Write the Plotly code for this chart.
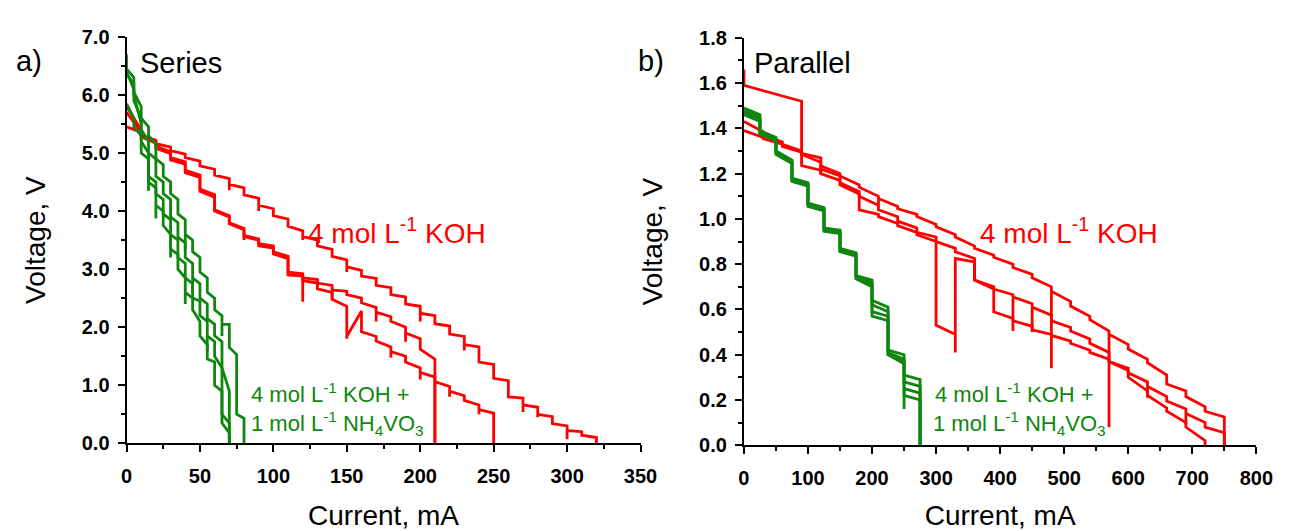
import plotly.graph_objects as go

# ---------------- Panel a) Series ----------------
# 4 mol/L KOH (red) – step currents (mA), voltage before step, after step, spike minimum
a_kohA_I = [0, 10, 20, 30, 40, 50, 60, 70, 80, 90, 100, 110, 120, 130, 140, 150, 160, 170, 180, 190, 200,
            210, 220, 230, 240, 250, 260, 270, 280, 290, 300, 310, 320]
a_kohA_hi = [5.45, 5.36, 5.22, 5.10, 4.98, 4.86, 4.72, 4.56, 4.40, 4.22, 4.04, 3.86, 3.66, 3.50, 3.34, 3.16, 2.98,
             2.84, 2.68, 2.52, 2.36, 2.20, 2.02, 1.84, 1.66, 1.36, 1.08, 0.78, 0.62, 0.46, 0.30, 0.20, 0.10]
a_kohA_lo = [5.45, 5.30, 5.16, 5.04, 4.92, 4.78, 4.62, 4.46, 4.28, 4.10, 3.92, 3.74, 3.56, 3.40, 3.22, 3.04, 2.88,
             2.72, 2.56, 2.40, 2.24, 2.06, 1.88, 1.70, 1.40, 1.12, 0.80, 0.66, 0.50, 0.34, 0.22, 0.14, 0.00]
a_kohA_min = [5.45, 5.30, 5.16, 5.04, 4.92, 4.78, 4.62, 4.36, 4.28, 4.00, 3.92, 3.74, 3.50, 3.40, 3.22, 2.95, 2.88,
              2.72, 2.56, 2.40, 2.10, 2.06, 1.88, 1.60, 1.40, 1.12, 0.80, 0.54, 0.45, 0.34, 0.07, 0.14, 0.00]

a_kohB_I = [0, 10, 20, 30, 40, 50, 60, 70, 80, 90, 100, 110, 120, 130, 140, 150, 160, 170, 180, 190, 200,
            210, 220, 230, 240, 250]
a_kohB_hi = [5.70, 5.36, 5.17, 4.99, 4.81, 4.58, 4.24, 3.90, 3.68, 3.50, 3.36, 3.18, 2.88, 2.76, 2.60, 2.36, 2.28,
             1.84, 1.66, 1.50, 1.30, 1.14, 0.98, 0.82, 0.66, 0.52]
a_kohB_lo = [5.70, 5.28, 5.08, 4.88, 4.66, 4.34, 4.00, 3.78, 3.56, 3.40, 3.26, 2.90, 2.80, 2.66, 2.48, 1.84, 1.92,
             1.76, 1.58, 1.40, 1.22, 1.06, 0.90, 0.74, 0.58, 0.00]
a_kohB_min = [5.70, 5.28, 5.08, 4.88, 4.66, 4.34, 4.00, 3.78, 3.56, 3.40, 3.26, 2.90, 2.80, 2.66, 2.48, 1.80, 1.92,
              1.76, 1.48, 1.40, 1.10, 0.02, 0.80, 0.74, 0.50, 0.00]

a_kohC_I = [0, 10, 20, 30, 40, 50, 60, 70, 80, 90, 100, 110, 120, 130, 140, 150, 160, 170, 180, 190, 200, 210]
a_kohC_hi = [5.80, 5.40, 5.20, 5.02, 4.85, 4.62, 4.28, 3.92, 3.70, 3.52, 3.40, 3.22, 2.92, 2.82, 2.72, 2.62, 2.50,
             2.34, 2.18, 2.00, 1.80, 1.45]
a_kohC_lo = [5.80, 5.32, 5.12, 4.92, 4.70, 4.38, 4.02, 3.80, 3.58, 3.44, 3.30, 2.95, 2.85, 2.76, 2.64, 2.56, 2.42,
             2.26, 2.10, 1.90, 1.62, 0.00]
a_kohC_min = [5.80, 5.32, 5.12, 4.92, 4.70, 4.38, 4.02, 3.80, 3.50, 3.44, 3.30, 2.95, 2.44, 2.76, 2.48, 2.56, 2.42,
              2.10, 2.10, 1.75, 1.62, 0.00]

# 4 mol/L KOH + 1 mol/L NH4VO3 (green)
a_vo_I1 = [0, 5, 10, 15, 20, 25, 30, 35, 40, 45, 50, 55, 60, 65, 70, 75, 80]
a_vo1_hi = [6.35, 6.20, 5.80, 5.45, 5.15, 4.80, 4.50, 4.20, 3.85, 3.50, 3.20, 2.85, 2.50, 2.20, 2.05, 1.53, 0.43]
a_vo1_lo = [6.35, 6.05, 5.60, 5.30, 4.90, 4.60, 4.30, 3.95, 3.60, 3.30, 2.95, 2.60, 2.30, 2.05, 1.65, 0.50, 0.00]
a_vo1_min = [6.35, 6.05, 5.60, 5.30, 4.90, 4.60, 4.30, 3.95, 3.35, 3.30, 2.95, 2.60, 2.30, 1.85, 1.65, 0.50, 0.00]

a_vo_I = [0, 5, 10, 15, 20, 25, 30, 35, 40, 45, 50, 55, 60, 65, 70]
a_vo2_hi = [6.70, 6.10, 5.60, 5.20, 4.90, 4.50, 4.20, 3.80, 3.45, 3.10, 2.75, 2.40, 2.05, 1.75, 0.90]
a_vo2_lo = [6.40, 5.90, 5.40, 5.00, 4.60, 4.30, 3.90, 3.55, 3.20, 2.85, 2.50, 2.15, 1.85, 1.30, 0.00]
a_vo2_min = [6.40, 5.90, 5.40, 4.35, 4.60, 4.30, 3.90, 3.55, 3.20, 2.60, 2.50, 2.15, 1.85, 1.30, 0.00]

a_vo3_hi = [5.85, 5.60, 5.30, 4.90, 4.50, 4.20, 3.85, 3.50, 3.10, 2.75, 2.45, 2.10, 1.75, 1.30, 0.35]
a_vo3_lo = [5.85, 5.45, 5.00, 4.60, 4.30, 3.95, 3.60, 3.20, 2.85, 2.50, 2.20, 1.85, 1.50, 0.50, 0.00]
a_vo3_min = [5.85, 5.45, 5.00, 4.60, 4.30, 3.95, 3.20, 3.20, 2.85, 2.50, 2.20, 1.60, 1.50, 0.50, 0.00]

a_vo4_hi = [6.45, 6.30, 5.50, 5.00, 4.40, 4.00, 3.60, 3.25, 2.85, 2.50, 2.10, 1.70, 1.40, 0.90, 0.18]
a_vo4_lo = [6.45, 6.00, 5.20, 4.50, 4.10, 3.75, 3.35, 3.00, 2.60, 2.30, 1.85, 1.45, 1.00, 0.35, 0.00]
a_vo4_min = [6.45, 6.00, 5.20, 4.50, 3.87, 3.75, 3.35, 3.00, 2.40, 2.30, 1.85, 1.45, 1.00, 0.35, 0.00]

# ---------------- Panel b) Parallel ----------------
b_kohA_I = [0, 30, 60, 90, 120, 150, 180, 210, 240, 270, 300, 330, 360, 390, 420, 450, 480, 510, 540, 570, 600,
            630, 660, 690, 720, 750]
b_kohA_hi = [1.39, 1.36, 1.33, 1.295, 1.25, 1.20, 1.15, 1.10, 1.055, 1.02, 0.975, 0.93, 0.88, 0.84, 0.80, 0.755,
             0.70, 0.635, 0.57, 0.505, 0.445, 0.38, 0.31, 0.24, 0.17, 0.125]
b_kohA_lo = [1.39, 1.355, 1.32, 1.285, 1.235, 1.19, 1.14, 1.09, 1.045, 1.01, 0.965, 0.92, 0.87, 0.83, 0.785, 0.74,
             0.68, 0.615, 0.555, 0.49, 0.425, 0.365, 0.27, 0.215, 0.15, 0.00]
b_kohA_min = [1.39, 1.355, 1.32, 1.285, 1.20, 1.19, 1.14, 1.06, 1.045, 1.01, 0.965, 0.92, 0.87, 0.83, 0.785, 0.74,
              0.34, 0.615, 0.555, 0.08, 0.425, 0.365, 0.27, 0.215, 0.15, 0.00]

b_kohB_I = [0, 90, 120, 150, 180, 210, 240, 270, 300, 330, 360, 390, 420, 450, 480, 510, 540, 570, 600, 630, 660,
            690, 720, 750]
b_kohB_hi = [1.66, 1.52, 1.215, 1.17, 1.12, 1.06, 1.01, 0.96, 0.92, 0.87, 0.825, 0.70, 0.665, 0.625, 0.575, 0.52,
             0.47, 0.41, 0.34, 0.28, 0.215, 0.16, 0.10, 0.055]
b_kohB_lo = [1.59, 1.235, 1.20, 1.16, 1.10, 1.04, 0.99, 0.94, 0.90, 0.855, 0.73, 0.69, 0.655, 0.61, 0.55, 0.505,
             0.45, 0.37, 0.32, 0.26, 0.195, 0.14, 0.08, 0.00]
b_kohB_min = [1.59, 1.235, 1.20, 1.16, 1.10, 1.04, 0.99, 0.94, 0.90, 0.855, 0.73, 0.69, 0.505, 0.50, 0.55, 0.505,
              0.45, 0.37, 0.32, 0.21, 0.195, 0.09, 0.08, 0.00]

b_kohC_I = [0, 30, 60, 90, 120, 150, 180, 210, 240, 270, 300, 330, 360, 390, 420, 450, 480, 510, 540, 570, 600,
            630, 660, 690, 720]
b_kohC_hi = [1.43, 1.385, 1.34, 1.30, 1.27, 1.19, 1.11, 1.02, 0.98, 0.94, 0.90, 0.49, 0.81, 0.69, 0.56, 0.525,
             0.49, 0.46, 0.42, 0.38, 0.33, 0.24, 0.165, 0.10, 0.02]
b_kohC_lo = [1.43, 1.37, 1.33, 1.29, 1.22, 1.15, 1.04, 1.01, 0.97, 0.93, 0.53, 0.825, 0.73, 0.59, 0.55, 0.51,
             0.485, 0.45, 0.41, 0.37, 0.30, 0.22, 0.15, 0.08, 0.00]
b_kohC_min = [1.43, 1.36, 1.33, 1.29, 1.22, 1.15, 1.04, 1.01, 0.97, 0.93, 0.53, 0.41, 0.73, 0.59, 0.55, 0.51,
              0.485, 0.45, 0.41, 0.37, 0.30, 0.22, 0.15, 0.08, 0.00]

b_vo_I = [0, 25, 50, 75, 100, 125, 150, 175, 200, 225, 250, 275]
b_vo1_hi = [1.49, 1.46, 1.36, 1.26, 1.16, 1.05, 0.95, 0.85, 0.73, 0.61, 0.40, 0.29]
b_vo1_lo = [1.49, 1.39, 1.30, 1.18, 1.07, 0.96, 0.87, 0.75, 0.64, 0.42, 0.31, 0.00]
b_vo2_hi = [1.48, 1.45, 1.355, 1.255, 1.155, 1.045, 0.945, 0.845, 0.72, 0.59, 0.38, 0.26]
b_vo2_lo = [1.48, 1.385, 1.295, 1.175, 1.065, 0.955, 0.865, 0.745, 0.62, 0.41, 0.28, 0.00]
b_vo3_hi = [1.47, 1.44, 1.35, 1.25, 1.15, 1.04, 0.94, 0.84, 0.71, 0.57, 0.37, 0.23]
b_vo3_lo = [1.47, 1.38, 1.29, 1.17, 1.06, 0.95, 0.86, 0.74, 0.59, 0.40, 0.25, 0.00]
b_vo3_min = [1.47, 1.38, 1.29, 1.17, 1.06, 0.95, 0.86, 0.74, 0.59, 0.40, 0.16, 0.00]
b_vo4_hi = [1.46, 1.43, 1.345, 1.245, 1.145, 1.035, 0.935, 0.835, 0.70, 0.55, 0.36, 0.20]
b_vo4_lo = [1.46, 1.375, 1.285, 1.165, 1.055, 0.945, 0.855, 0.735, 0.57, 0.40, 0.22, 0.00]

a_xticks = [0, 50, 100, 150, 200, 250, 300, 350]
a_yticks = [0, 1, 2, 3, 4, 5, 6, 7]
b_xticks = [0, 100, 200, 300, 400, 500, 600, 700, 800]
b_yticks = [0, 0.2, 0.4, 0.6, 0.8, 1.0, 1.2, 1.4, 1.6, 1.8]

RED = "#FF0000"
GREEN = "#0F870F"
W, H = 1293, 531


def staircase(I, hi, lo, mn=None):
    if mn is None:
        mn = lo
    xs, ys = [], []
    for i, h, m, l in zip(I, hi, mn, lo):
        xs += [i, i, i]
        ys += [h, m, l]
    return xs, ys


fig = go.Figure()

def add(I, hi, lo, mn, color, xa, ya, name):
    x, y = staircase(I, hi, lo, mn)
    fig.add_trace(go.Scatter(x=x, y=y, mode="lines", line=dict(color=color, width=2.8),
                             xaxis=xa, yaxis=ya, name=name, showlegend=False, hoverinfo="skip"))

# panel a
add(a_kohA_I, a_kohA_hi, a_kohA_lo, a_kohA_min, RED, "x", "y", "KOH")
add(a_kohB_I, a_kohB_hi, a_kohB_lo, a_kohB_min, RED, "x", "y", "KOH")
add(a_kohC_I, a_kohC_hi, a_kohC_lo, a_kohC_min, RED, "x", "y", "KOH")
add(a_vo_I1, a_vo1_hi, a_vo1_lo, a_vo1_min, GREEN, "x", "y", "KOH+NH4VO3")
add(a_vo_I, a_vo2_hi, a_vo2_lo, a_vo2_min, GREEN, "x", "y", "KOH+NH4VO3")
add(a_vo_I, a_vo3_hi, a_vo3_lo, a_vo3_min, GREEN, "x", "y", "KOH+NH4VO3")
add(a_vo_I, a_vo4_hi, a_vo4_lo, a_vo4_min, GREEN, "x", "y", "KOH+NH4VO3")
# panel b
add(b_kohA_I, b_kohA_hi, b_kohA_lo, b_kohA_min, RED, "x2", "y2", "KOH")
add(b_kohB_I, b_kohB_hi, b_kohB_lo, b_kohB_min, RED, "x2", "y2", "KOH")
add(b_kohC_I, b_kohC_hi, b_kohC_lo, b_kohC_min, RED, "x2", "y2", "KOH")
add(b_vo_I, b_vo1_hi, b_vo1_lo, None, GREEN, "x2", "y2", "KOH+NH4VO3")
add(b_vo_I, b_vo2_hi, b_vo2_lo, None, GREEN, "x2", "y2", "KOH+NH4VO3")
add(b_vo_I, b_vo3_hi, b_vo3_lo, b_vo3_min, GREEN, "x2", "y2", "KOH+NH4VO3")
add(b_vo_I, b_vo4_hi, b_vo4_lo, None, GREEN, "x2", "y2", "KOH+NH4VO3")

FONT = "Liberation Sans, Arial, sans-serif"
tickfont = dict(family=FONT, size=20, color="black", weight="bold")
titlefont = dict(family=FONT, size=28, color="black")

def axis_common(standoff):
    return dict(showline=True, linecolor="black", linewidth=2, ticks="outside", ticklen=7,
                tickwidth=2, tickcolor="black", showgrid=False, zeroline=False, mirror=False,
                tickfont=tickfont, ticklabelstandoff=standoff)

def minor(d):
    return dict(ticks="outside", ticklen=4, tickwidth=2, tickcolor="black", dtick=d)

px2x = lambda p: p / W
px2y = lambda p: 1 - p / H

fig.update_layout(
    width=W, height=H, margin=dict(l=0, r=0, t=0, b=0),
    paper_bgcolor="white", plot_bgcolor="white", showlegend=False,
    xaxis=dict(domain=[px2x(122.7), px2x(646)], range=[0, 350], tickvals=a_xticks, minor=minor(25),
               title=dict(text="Current, mA", font=titlefont, standoff=22), anchor="y",
               **axis_common(7)),
    yaxis=dict(domain=[px2y(451), px2y(27)], range=[0, 7], tickvals=a_yticks, tickformat=".1f",
               minor=minor(0.5),
               title=dict(text="Voltage, V", font=titlefont, standoff=28), anchor="x",
               **axis_common(4)),
    xaxis2=dict(domain=[px2x(751.3), px2x(1273)], range=[0, 800], tickvals=b_xticks, minor=minor(50),
                title=dict(text="Current, mA", font=titlefont, standoff=22), anchor="y2",
                **axis_common(7)),
    yaxis2=dict(domain=[px2y(453), px2y(28)], range=[0, 1.8], tickvals=b_yticks, tickformat=".1f",
                minor=minor(0.1),
                title=dict(text="Voltage, V", font=titlefont, standoff=28), anchor="x2",
                **axis_common(4)),
)

def note(text, x, y, size, color, xanchor="left"):
    fig.add_annotation(text=text, x=px2x(x), y=px2y(y), xref="paper", yref="paper",
                       xanchor=xanchor, yanchor="middle", showarrow=False,
                       font=dict(family=FONT, size=size, color=color))

note("a)", 8, 52, 29, "black")
note("b)", 641, 52, 29, "black")
note("Series", 134, 54, 29, "black")
note("Parallel", 760, 54, 29, "black")
note("4 mol L<sup>-1</sup> KOH", 305, 230, 28, RED)
note("4 mol L<sup>-1</sup> KOH", 990, 230, 28, RED)
note("4 mol L<sup>-1</sup> KOH +", 247, 398, 22, GREEN)
note("1 mol L<sup>-1</sup> NH<sub>4</sub>VO<sub>3</sub>", 247, 430, 22, GREEN)
note("4 mol L<sup>-1</sup> KOH +", 944, 398, 22, GREEN)
note("1 mol L<sup>-1</sup> NH<sub>4</sub>VO<sub>3</sub>", 942, 430, 22, GREEN)

fig.write_html("out.html")
